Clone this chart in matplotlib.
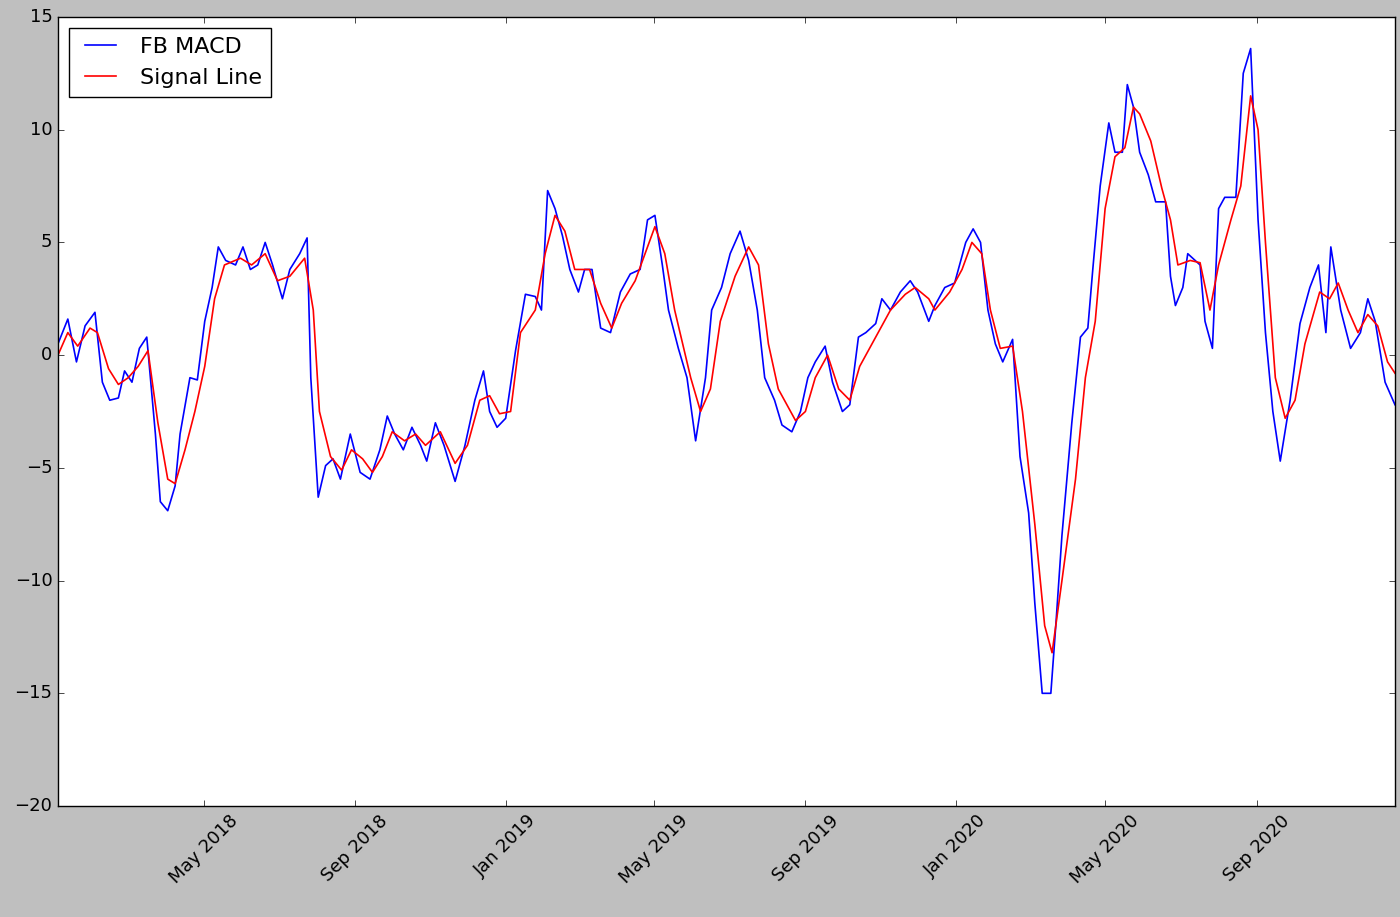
import matplotlib
matplotlib.use("Agg")
import matplotlib.pyplot as plt
import matplotlib.dates as mdates
import pandas as pd

start = pd.Timestamp("2018-01-03")
macd_days = [0,8,15,22,30,36,42,49,54,60,66,72,79,83,89,95,99,107,113,119,125,130,136,144,150,156,162,168,174,182,188,196,202,205,211,217,223,229,237,245,253,261,267,273,280,287,294,299,306,313,322,330,338,345,350,356,363,371,379,387,392,397,403,409,415,422,427,433,440,448,456,464,472,478,484,490,495,503,510,517,525,530,538,545,553,560,567,573,581,587,595,602,608,614,622,628,636,642,649,655,663,668,675,683,691,697,706,711,719,727,736,742,748,754,760,766,774,780,787,792,798,805,809,814,822,829,835,839,845,852,857,863,867,872,877,884,890,898,902,906,912,916,922,926,930,936,941,946,955,961,967,973,979,985,991,999,1007,1015,1022,1028,1032,1040,1048,1056,1062,1068,1076,1084]
macd_vals = [0.5,1.6,-0.3,1.3,1.9,-1.2,-2.0,-1.9,-0.7,-1.2,0.3,0.8,-3.5,-6.5,-6.9,-5.8,-3.5,-1.0,-1.1,1.5,3.0,4.8,4.2,4.0,4.8,3.8,4.0,5.0,4.0,2.5,3.8,4.5,5.2,-1.0,-6.3,-4.9,-4.6,-5.5,-3.5,-5.2,-5.5,-4.2,-2.7,-3.5,-4.2,-3.2,-4.0,-4.7,-3.0,-4.0,-5.6,-4.0,-2.0,-0.7,-2.5,-3.2,-2.8,0.2,2.7,2.6,2.0,7.3,6.5,5.3,3.8,2.8,3.8,3.8,1.2,1.0,2.8,3.6,3.8,6.0,6.2,4.0,2.0,0.3,-1.0,-3.8,-1.0,2.0,3.0,4.5,5.5,4.2,2.0,-1.0,-2.0,-3.1,-3.4,-2.5,-1.0,-0.3,0.4,-1.2,-2.5,-2.2,0.8,1.0,1.4,2.5,2.0,2.8,3.3,2.8,1.5,2.2,3.0,3.2,5.0,5.6,5.0,2.0,0.5,-0.3,0.7,-4.5,-7.0,-11.0,-15.0,-15.0,-12.0,-8.0,-3.0,0.8,1.2,3.8,7.5,10.3,9.0,9.0,12.0,11.0,9.0,8.0,6.8,6.8,3.5,2.2,3.0,4.5,4.2,4.0,1.5,0.3,6.5,7.0,7.0,12.5,13.6,6.0,1.0,-2.5,-4.7,-2.0,1.4,3.0,4.0,1.0,4.8,2.0,0.3,1.0,2.5,1.5,-1.2,-2.2]

sig_days = [0,8,16,26,32,41,49,57,65,73,81,89,95,103,111,119,127,135,148,157,168,178,188,200,207,212,221,230,238,247,255,263,271,281,290,298,310,322,332,342,350,358,367,375,387,395,403,411,419,431,440,449,457,468,476,484,492,500,513,521,529,537,549,560,568,576,584,598,606,614,624,633,642,650,663,675,687,695,706,711,723,733,741,749,756,764,774,782,792,800,806,814,825,833,841,849,857,865,872,877,886,895,902,908,918,926,934,941,951,959,967,973,979,987,995,1003,1011,1023,1031,1038,1046,1054,1062,1070,1078,1084]
sig_vals = [0.0,1.0,0.4,1.2,1.0,-0.6,-1.3,-1.0,-0.5,0.2,-3.0,-5.5,-5.7,-4.2,-2.5,-0.5,2.5,4.0,4.3,4.0,4.5,3.3,3.5,4.3,2.0,-2.5,-4.5,-5.1,-4.2,-4.6,-5.2,-4.5,-3.4,-3.8,-3.5,-4.0,-3.4,-4.8,-4.0,-2.0,-1.8,-2.6,-2.5,1.0,2.0,4.5,6.2,5.5,3.8,3.8,2.3,1.2,2.3,3.3,4.5,5.7,4.5,2.0,-1.0,-2.5,-1.5,1.5,3.5,4.8,4.0,0.5,-1.5,-2.9,-2.5,-1.0,0.0,-1.5,-2.0,-0.5,0.8,2.0,2.7,3.0,2.5,2.0,2.8,3.8,5.0,4.5,2.0,0.3,0.4,-2.5,-7.5,-12.0,-13.2,-10.0,-5.5,-1.0,1.5,6.5,8.8,9.2,11.0,10.7,9.5,7.4,6.0,4.0,4.2,4.1,2.0,4.0,6.0,7.5,11.5,10.0,5.0,-1.0,-2.8,-2.0,0.5,2.8,2.5,3.2,2.0,1.0,1.8,1.3,-0.3,-0.8]

macd_dates = start + pd.to_timedelta(macd_days, unit="D")
sig_dates = start + pd.to_timedelta(sig_days, unit="D")

plt.style.use("classic")
fig = plt.figure(figsize=(14, 9.17), dpi=100, facecolor="#bfbfbf")
ax = fig.add_axes([0.0414, 0.121, 0.9550, 0.8605])
ax.plot(macd_dates, macd_vals, color="blue", lw=1.2, label="FB MACD")
ax.plot(sig_dates, sig_vals, color="red", lw=1.2, label="Signal Line")
ax.set_xlim(macd_dates[0], macd_dates[-1])
ax.set_ylim(-20, 15)
ax.xaxis.set_major_locator(mdates.MonthLocator(bymonth=[1, 5, 9]))
ax.xaxis.set_major_formatter(mdates.DateFormatter("%b %Y"))
ax.tick_params(labelsize=13)
for t in ax.get_xticklabels():
    t.set_rotation(45)
ax.legend(loc="upper left", fontsize=16)
fig.savefig("out.png", dpi=100, facecolor=fig.get_facecolor())
